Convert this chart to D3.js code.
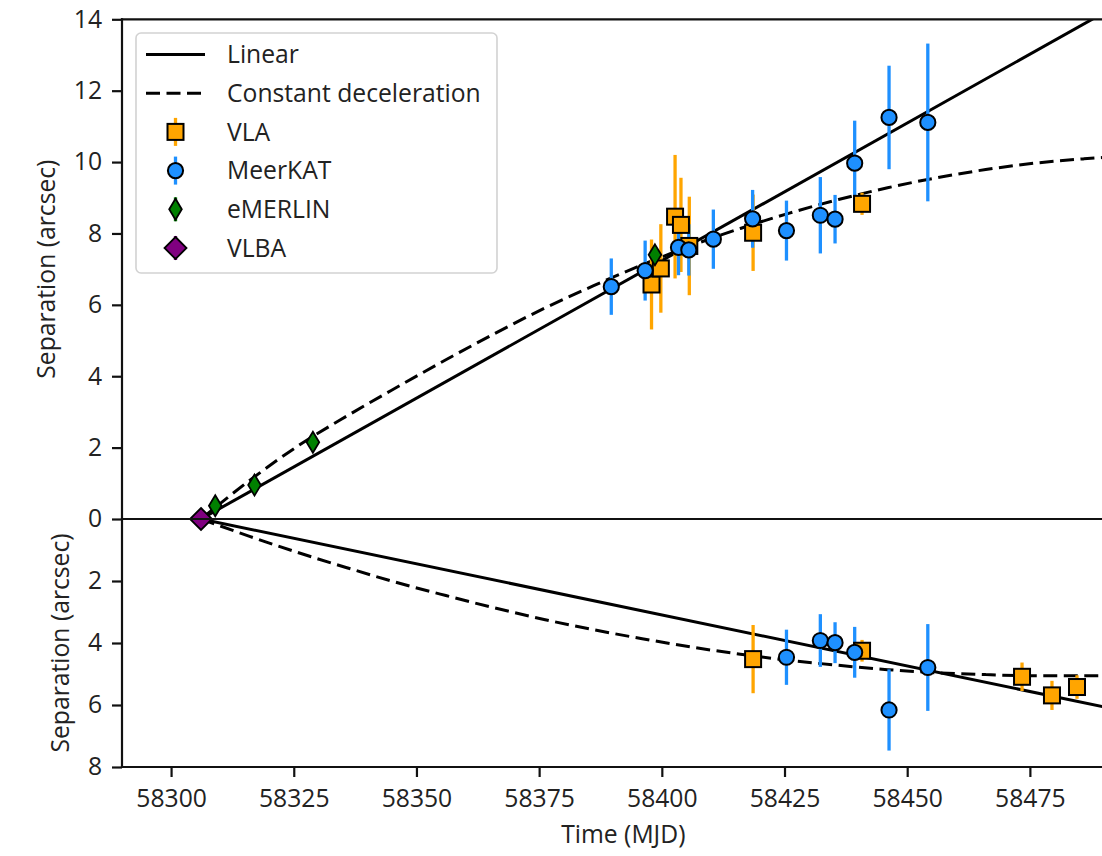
<!DOCTYPE html>
<html><head><meta charset="utf-8">
<script src="https://cdn.jsdelivr.net/npm/d3@7"></script>
<style>
html,body{margin:0;padding:0;background:#fff;}
svg{display:block;}
text{font-family:"Open Sans",sans-serif;fill:#222;}
</style>
</head><body>
<svg id="chart" width="1102" height="856"></svg>
<script>
// ---------------- data ----------------
const xTickValues = [58300, 58325, 58350, 58375, 58400, 58425, 58450, 58475];
const yTopTicks = [0, 2, 4, 6, 8, 10, 12, 14];
const yBottomTicks = [2, 4, 6, 8];

const legendLabels = ["Linear", "Constant deceleration", "VLA", "MeerKAT", "eMERLIN", "VLBA"];

const vlbaTime = [58306.1];
const vlbaSep = [0];

const emerlinTime = [58309.0, 58317.0, 58328.9, 58398.6];
const emerlinSep = [0.37, 0.95, 2.15, 7.40];
const emerlinErr = [0.12, 0.12, 0.12, 0.15];

const vlaTopTime = [58397.9, 58399.8, 58402.7, 58403.9, 58405.6, 58418.6, 58440.8];
const vlaTopSep = [6.57, 7.02, 8.47, 8.24, 7.65, 8.02, 8.83];
const vlaTopErr = [1.26, 1.24, 1.73, 1.32, 1.38, 1.07, 0.31];

const meerkatTopTime = [58389.7, 58396.6, 58403.4, 58405.5, 58410.5, 58418.5, 58425.4, 58432.3, 58435.3, 58439.3, 58446.3, 58454.2];
const meerkatTopSep = [6.51, 6.96, 7.61, 7.54, 7.84, 8.41, 8.08, 8.51, 8.40, 9.97, 11.25, 11.11];
const meerkatTopErr = [0.79, 0.84, 0.78, 0.72, 0.83, 0.81, 0.84, 1.07, 0.68, 1.19, 1.45, 2.21];

const vlaBottomTime = [58418.6, 58440.8, 58473.4, 58479.5, 58484.6];
const vlaBottomSep = [4.52, 4.25, 5.09, 5.69, 5.42];
const vlaBottomErr = [1.10, 0.35, 0.46, 0.47, 0.38];

const meerkatBottomTime = [58425.4, 58432.3, 58435.3, 58439.3, 58446.3, 58454.2];
const meerkatBottomSep = [4.46, 3.92, 3.99, 4.30, 6.16, 4.79];
const meerkatBottomErr = [0.89, 0.85, 0.66, 0.82, 1.31, 1.40];

const linearTime = [58306.1, 58494.3];
const linearTopSep = [0, 14.51];
const linearBottomSep = [0, 6.20];

const decelTime = [58306.1, 58316, 58326, 58336, 58346, 58356, 58366, 58376, 58386, 58396,
                   58406, 58416, 58426, 58436, 58446, 58456, 58466, 58476, 58486, 58495];
const decelTopSep = [0, 1.08, 2.06, 2.90, 3.69, 4.46, 5.20, 5.90, 6.53, 7.12,
                     7.66, 8.14, 8.57, 8.95, 9.28, 9.56, 9.79, 9.97, 10.09, 10.17];
const decelBottomSep = [0, 0.56, 1.09, 1.58, 2.05, 2.47, 2.87, 3.24, 3.57, 3.86,
                        4.13, 4.36, 4.56, 4.72, 4.86, 4.96, 5.02, 5.06, 5.06, 5.04];

// ---------------- styles ----------------
const COL_VLA = "#FFA500", COL_MK = "#1E90FF", COL_EM = "#008000", COL_VLBA = "#800080";

const svg = d3.select("#chart");
svg.append("rect").attr("width", 1102).attr("height", 856).attr("fill", "#fff");

const x = d3.scaleLinear().domain([58290, 58494.3]).range([122, 1124.6]);
const yTop = d3.scaleLinear().domain([0, 14]).range([519, 19.3]);
const yBot = d3.scaleLinear().domain([0, 8]).range([519, 767]);

const defs = svg.append("defs");
defs.append("clipPath").attr("id", "clipTop").append("rect")
  .attr("x", x.range()[0]).attr("y", yTop(14)).attr("width", x.range()[1] - x.range()[0]).attr("height", yTop(0) - yTop(14));
defs.append("clipPath").attr("id", "clipBot").append("rect")
  .attr("x", x.range()[0]).attr("y", yBot(0)).attr("width", x.range()[1] - x.range()[0]).attr("height", yBot(8) - yBot(0));

const zip = (t, s, e) => t.map((v, i) => ({ t: v, s: s[i], e: e ? e[i] : 0 }));

// ---------------- model lines ----------------
function drawLine(clip, times, seps, yScale, dashed) {
  const line = d3.line().x(d => x(d.t)).y(d => yScale(d.s)).curve(d3.curveMonotoneX);
  svg.append("path").attr("clip-path", `url(#${clip})`)
    .attr("d", line(zip(times, seps)))
    .attr("fill", "none").attr("stroke", "#000").attr("stroke-width", 3)
    .attr("stroke-dasharray", dashed ? "14,6.5" : null);
}
drawLine("clipTop", linearTime, linearTopSep, yTop, false);
drawLine("clipTop", decelTime, decelTopSep, yTop, true);
drawLine("clipBot", linearTime, linearBottomSep, yBot, false);
drawLine("clipBot", decelTime, decelBottomSep, yBot, true);

// ---------------- error bars ----------------
function drawBars(times, seps, errs, yScale, color) {
  svg.append("g").selectAll("line").data(zip(times, seps, errs)).join("line")
    .attr("x1", d => x(d.t)).attr("x2", d => x(d.t))
    .attr("y1", d => yScale(d.s - d.e)).attr("y2", d => yScale(d.s + d.e))
    .attr("stroke", color).attr("stroke-width", 3.3);
}
drawBars(vlaTopTime, vlaTopSep, vlaTopErr, yTop, COL_VLA);
drawBars(vlaBottomTime, vlaBottomSep, vlaBottomErr, yBot, COL_VLA);
drawBars(meerkatTopTime, meerkatTopSep, meerkatTopErr, yTop, COL_MK);
drawBars(meerkatBottomTime, meerkatBottomSep, meerkatBottomErr, yBot, COL_MK);
drawBars(emerlinTime, emerlinSep, emerlinErr, yTop, COL_EM);

// ---------------- markers ----------------
const diamondPath = (cx, cy, hw, hh) => `M${cx},${cy - hh}L${cx + hw},${cy}L${cx},${cy + hh}L${cx - hw},${cy}Z`;

function drawSquares(g, pts, color) {
  g.selectAll(null).data(pts).join("rect")
    .attr("x", d => d.cx - 8).attr("y", d => d.cy - 8).attr("width", 16).attr("height", 16)
    .attr("fill", color).attr("stroke", "#000").attr("stroke-width", 2);
}
function drawCircles(g, pts, color) {
  g.selectAll(null).data(pts).join("circle")
    .attr("cx", d => d.cx).attr("cy", d => d.cy).attr("r", 7.6)
    .attr("fill", color).attr("stroke", "#000").attr("stroke-width", 2);
}
function drawDiamonds(g, pts, color, hw, hh) {
  g.selectAll(null).data(pts).join("path")
    .attr("d", d => diamondPath(d.cx, d.cy, hw, hh))
    .attr("fill", color).attr("stroke", "#000").attr("stroke-width", 1.8);
}
const toPx = (times, seps, yScale) => times.map((t, i) => ({ cx: x(t), cy: yScale(seps[i]) }));

const gm = svg.append("g");
drawSquares(gm, toPx(vlaTopTime, vlaTopSep, yTop), COL_VLA);
drawSquares(gm, toPx(vlaBottomTime, vlaBottomSep, yBot), COL_VLA);
drawCircles(gm, toPx(meerkatTopTime, meerkatTopSep, yTop), COL_MK);
drawCircles(gm, toPx(meerkatBottomTime, meerkatBottomSep, yBot), COL_MK);
drawDiamonds(gm, toPx(vlbaTime, vlbaSep, yTop), COL_VLBA, 11, 11);
drawDiamonds(gm, toPx(emerlinTime, emerlinSep, yTop), COL_EM, 6.3, 10.5);

// ---------------- spines & axes ----------------
const [x0, x1] = x.range();
const spine = (xa, ya, xb, yb) => svg.append("line").attr("x1", xa).attr("y1", ya).attr("x2", xb).attr("y2", yb)
  .attr("stroke", "#111").attr("stroke-width", 2.2).attr("stroke-linecap", "square");
spine(x0, yTop(14), x1, yTop(14));
spine(x0, yTop(0), x1, yTop(0));
spine(x0, yBot(8), x1, yBot(8));
spine(x0, yTop(14), x0, yBot(8));
spine(x1, yTop(14), x1, yBot(8));

function styleAxis(g) {
  g.select(".domain").remove();
  g.selectAll(".tick line").attr("stroke", "#111").attr("stroke-width", 2.2);
  g.selectAll(".tick text").attr("font-family", "Open Sans").attr("font-size", 24.7).attr("fill", "#222");
}
svg.append("g").attr("transform", `translate(${x0},0)`)
  .call(d3.axisLeft(yTop).tickValues(yTopTicks).tickFormat(d3.format("d")).tickSize(10).tickPadding(10))
  .call(styleAxis);
svg.append("g").attr("transform", `translate(${x0},0)`)
  .call(d3.axisLeft(yBot).tickValues(yBottomTicks).tickFormat(d3.format("d")).tickSize(10).tickPadding(10))
  .call(styleAxis);
svg.append("g").attr("transform", `translate(0,${yBot(8)})`)
  .call(d3.axisBottom(x).tickValues(xTickValues).tickFormat(d3.format("d")).tickSize(10).tickPadding(12.5))
  .call(styleAxis);

svg.append("text").attr("x", (x0 + x1) / 2).attr("y", 843).attr("text-anchor", "middle")
  .attr("font-size", 24.7).text("Time (MJD)");
svg.append("text").attr("transform", `translate(55,${(yTop(0) + yTop(14)) / 2}) rotate(-90)`)
  .attr("text-anchor", "middle").attr("font-size", 24.7).text("Separation (arcsec)");
svg.append("text").attr("transform", `translate(69,${(yBot(0) + yBot(8)) / 2}) rotate(-90)`)
  .attr("text-anchor", "middle").attr("font-size", 24.7).text("Separation (arcsec)");

// ---------------- legend ----------------
const lg = svg.append("g");
lg.append("rect").attr("x", 136).attr("y", 33).attr("width", 361).attr("height", 240).attr("rx", 5)
  .attr("fill", "#fff").attr("fill-opacity", 0.85).attr("stroke", "#d2d2d2").attr("stroke-width", 1.6);
const rowY = i => 54.5 + i * 38.7;
const hx0 = 146, hx1 = 205, hxc = 175.5, tx = 227;
legendLabels.forEach((lab, i) => {
  lg.append("text").attr("x", tx).attr("y", rowY(i)).attr("dy", "0.36em").attr("font-size", 24.7).text(lab);
});
lg.append("line").attr("x1", hx0).attr("x2", hx1).attr("y1", rowY(0)).attr("y2", rowY(0)).attr("stroke", "#000").attr("stroke-width", 3);
lg.append("line").attr("x1", hx0).attr("x2", hx1).attr("y1", rowY(1)).attr("y2", rowY(1)).attr("stroke", "#000").attr("stroke-width", 3).attr("stroke-dasharray", "14,6.5");
const legBar = (i, col, h) => lg.append("line").attr("x1", hxc).attr("x2", hxc).attr("y1", rowY(i) - h).attr("y2", rowY(i) + h).attr("stroke", col).attr("stroke-width", 3.3);
legBar(2, COL_VLA, 14); legBar(3, COL_MK, 14); legBar(4, COL_EM, 12); legBar(5, COL_VLBA, 12);
drawSquares(lg, [{ cx: hxc, cy: rowY(2) }], COL_VLA);
drawCircles(lg, [{ cx: hxc, cy: rowY(3) }], COL_MK);
drawDiamonds(lg, [{ cx: hxc, cy: rowY(4) }], COL_EM, 6.3, 10.5);
drawDiamonds(lg, [{ cx: hxc, cy: rowY(5) }], COL_VLBA, 11, 11);
</script>
</body></html>
